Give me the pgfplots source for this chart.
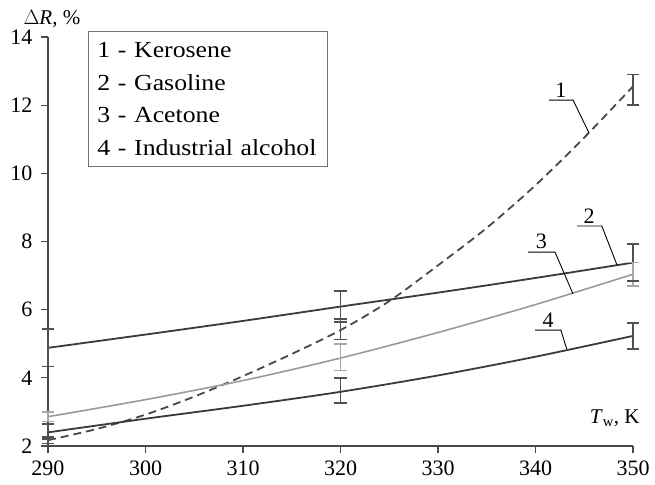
\documentclass[border=0pt]{standalone}
\usepackage{fontspec}
\setmainfont{Liberation Serif}
\usepackage{pgfplots}
\pgfplotsset{compat=1.18}
\definecolor{dk}{HTML}{3A3A3A}
\definecolor{dsh}{HTML}{484848}
\definecolor{gr}{HTML}{9A9A9A}
\definecolor{axc}{HTML}{4A4A4A}
\definecolor{ebd}{HTML}{505050}
\definecolor{ebg}{HTML}{A8A8A8}
\definecolor{lgc}{HTML}{707070}
\begin{document}
\begin{tikzpicture}
\useasboundingbox (-48bp,-39bp) rectangle (607bp,446bp);
\begin{axis}[
  scale only axis, width=585bp, height=409bp,
  xmin=290, xmax=350, ymin=2, ymax=14,
  axis x line*=bottom, axis y line*=left,
  axis line style={-, draw=axc, line width=1.3bp},
  xtick={290,300,...,350}, ytick={2,4,...,14},
  tick align=outside, major tick length=7bp,
  tick style={draw=axc, line width=1.3bp},
  /pgf/number format/assume math mode=true,
  tick label style={font=\fontsize{22bp}{26bp}\selectfont},
  xticklabel style={yshift=-4bp},
  yticklabel style={xshift=-5bp},
  clip=false,
  unbounded coords=jump,
  eb/.style={draw=#1, line width=1.6bp, mark=-, mark size=6.3bp,
    mark options={draw=#1, solid, line width=1.6bp}},
]
% curves
\addplot[dsh, line width=1.8bp, dash pattern=on 8bp off 5bp, smooth] coordinates {
(290,2.17)(295,2.50)(300,2.92)(305,3.45)(310,4.05)(315,4.70)(320,5.40)(325,6.25)(330,7.30)(335,8.40)(340,9.65)(345,11.05)(350,12.55)};
\addplot[dk, line width=1.8bp, smooth] coordinates {
(290,4.88)(300,5.27)(310,5.67)(320,6.09)(330,6.50)(340,6.93)(350,7.38)};
\addplot[gr, line width=1.6bp, smooth] coordinates {
(290,2.86)(300,3.36)(310,3.92)(320,4.58)(330,5.33)(340,6.15)(350,7.04)};
\addplot[dk, line width=1.8bp, smooth] coordinates {
(290,2.40)(300,2.80)(310,3.18)(320,3.59)(330,4.07)(340,4.62)(350,5.23)};
% error bars (low, high at each temperature)
\addplot[eb=ebd] coordinates {
(290,4.33)(290,5.43) (290,nan) (320,5.63)(320,6.55) (320,nan) (350,6.84)(350,7.92)};
\addplot[eb=ebd] coordinates {
(290,2.07)(290,2.27) (290,nan) (320,5.12)(320,5.72) (320,nan) (350,12.00)(350,12.90)};
\addplot[eb=ebg] coordinates {
(290,2.72)(290,3.00) (290,nan) (320,4.215)(320,4.985) (320,nan) (350,6.70)(350,7.38)};
\addplot[eb=ebd] coordinates {
(290,2.20)(290,2.64) (290,nan) (320,3.27)(320,3.99) (320,nan) (350,4.84)(350,5.60)};
% leaders and labels
\draw[black, line width=0.9bp] (axis cs:341.4,12.15) -- (axis cs:343.85,12.15) -- (axis cs:345.5,11.18);
\draw[black, line width=0.9bp] (axis cs:344.26,8.455) -- (axis cs:346.8,8.455) -- (axis cs:348.36,7.31);
\draw[black, line width=0.9bp] (axis cs:339.23,7.69) -- (axis cs:342.0,7.69) -- (axis cs:343.85,6.46);
\draw[black, line width=0.9bp] (axis cs:339.95,5.40) -- (axis cs:342.6,5.40) -- (axis cs:343.2,4.85);
\node[font=\fontsize{22bp}{26bp}\selectfont, anchor=south, inner sep=1bp] at (axis cs:342.6,12.2) {1};
\node[font=\fontsize{22bp}{26bp}\selectfont, anchor=south, inner sep=1bp] at (axis cs:345.5,8.5) {2};
\node[font=\fontsize{22bp}{26bp}\selectfont, anchor=south, inner sep=1bp] at (axis cs:340.6,7.74) {3};
\node[font=\fontsize{22bp}{26bp}\selectfont, anchor=south, inner sep=1bp] at (axis cs:341.3,5.45) {4};
% axis labels
\node[font=\fontsize{21bp}{25bp}\selectfont, inner sep=0pt] at (axis cs:290.4,14.53) {$\Delta$\textit{R}, \%};
\node[font=\fontsize{21bp}{25bp}\selectfont, anchor=east, inner sep=0pt] at (axis cs:350.7,2.82) {\textit{T}\textsubscript{w}, K};
% legend box
\node[draw=lgc, line width=0.9bp, anchor=north west, inner xsep=9bp, inner ysep=11bp,
  text width=221bp, align=left, font=\fontsize{23bp}{32.7bp}\selectfont\addfontfeature{FakeStretch=1.12}]
  at (axis cs:294.1,14.18) {1 - Kerosene\\2 - Gasoline\\3 - Acetone\\4 - Industrial alcohol};
\end{axis}
\end{tikzpicture}
\end{document}
